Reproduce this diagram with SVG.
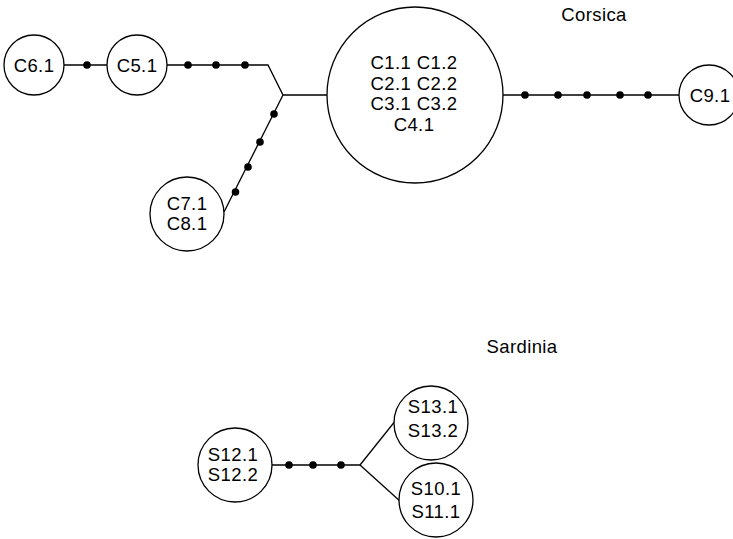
<svg xmlns="http://www.w3.org/2000/svg" width="733" height="539" viewBox="0 0 733 539">
<style>
  .node circle { fill: #fff; stroke: #000; stroke-width: 1.3; }
  text { font-family: "Liberation Sans", Arial, sans-serif; font-size: 18.5px; letter-spacing: 0.4px; fill: #000; text-anchor: middle; }
  .edge { fill: none; stroke: #000; stroke-width: 1.3; }
  .dot { fill: #000; stroke: none; }
</style>
<rect width="733" height="539" fill="#fff"/>
<g id="connectors">
  <polyline class="edge" points="64,65 107,65"/>
  <polyline class="edge" points="167,65 268,65 283,95 327,95"/>
  <line class="edge" x1="283" y1="95" x2="224" y2="212"/>
  <line class="edge" x1="503" y1="95" x2="679" y2="95"/>
  <line class="edge" x1="272" y1="465" x2="360" y2="465"/>
  <line class="edge" x1="360" y1="465" x2="396" y2="420"/>
  <line class="edge" x1="360" y1="465" x2="401" y2="502"/>
  <circle class="dot" cx="87" cy="65" r="3.8"/>
  <circle class="dot" cx="188" cy="65" r="3.8"/>
  <circle class="dot" cx="216" cy="65" r="3.8"/>
  <circle class="dot" cx="245" cy="65" r="3.8"/>
  <circle class="dot" cx="274" cy="114" r="3.8"/>
  <circle class="dot" cx="260" cy="142" r="3.8"/>
  <circle class="dot" cx="248" cy="167" r="3.8"/>
  <circle class="dot" cx="235.5" cy="192" r="3.8"/>
  <circle class="dot" cx="525" cy="95" r="3.8"/>
  <circle class="dot" cx="558" cy="95" r="3.8"/>
  <circle class="dot" cx="587" cy="95" r="3.8"/>
  <circle class="dot" cx="620" cy="95" r="3.8"/>
  <circle class="dot" cx="648" cy="95" r="3.8"/>
  <circle class="dot" cx="289" cy="465" r="3.8"/>
  <circle class="dot" cx="313" cy="465" r="3.8"/>
  <circle class="dot" cx="341" cy="465" r="3.8"/>
</g>
<g id="C6" class="node">
  <circle cx="34" cy="65" r="30"/>
  <text x="34" y="71.5">C6.1</text>
</g>
<g id="C5" class="node">
  <circle cx="137" cy="65" r="30"/>
  <text x="137" y="71.5">C5.1</text>
</g>
<g id="C7" class="node">
  <circle cx="187" cy="214" r="37"/>
  <text x="187" y="210">C7.1</text>
  <text x="187" y="230">C8.1</text>
</g>
<g id="C1" class="node">
  <circle cx="415" cy="95" r="88"/>
  <text x="414" y="69">C1.1 C1.2</text>
  <text x="414" y="89.5">C2.1 C2.2</text>
  <text x="414" y="110">C3.1 C3.2</text>
  <text x="414" y="130.5">C4.1</text>
</g>
<g id="C9" class="node">
  <circle cx="709" cy="95" r="30"/>
  <text x="710" y="101.5">C9.1</text>
</g>
<g id="S12" class="node">
  <circle cx="235" cy="465" r="37"/>
  <text x="233" y="461">S12.1</text>
  <text x="233" y="481">S12.2</text>
</g>
<g id="S13" class="node">
  <circle cx="431" cy="423" r="37"/>
  <text x="433" y="413">S13.1</text>
  <text x="433" y="437">S13.2</text>
</g>
<g id="S10" class="node">
  <circle cx="436" cy="500" r="37"/>
  <text x="436" y="495">S10.1</text>
  <text x="436" y="518">S11.1</text>
</g>
<g id="labels">
  <text x="594" y="21">Corsica</text>
  <text x="522" y="353">Sardinia</text>
</g>
</svg>
